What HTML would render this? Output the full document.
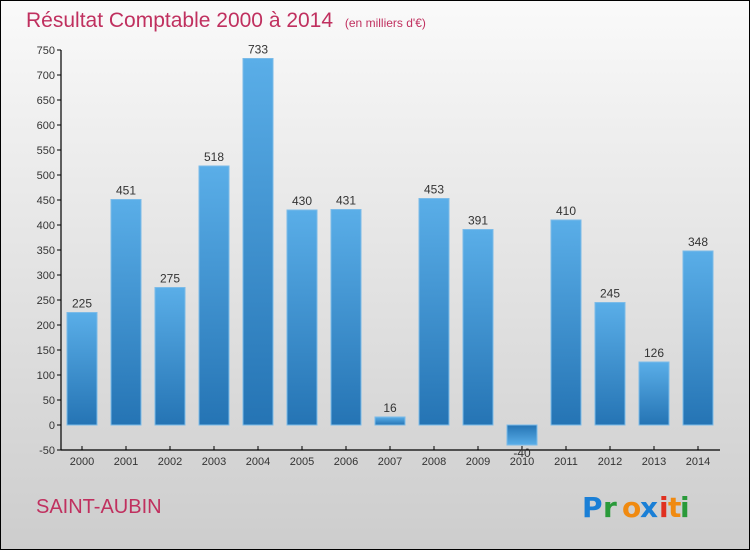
<!DOCTYPE html>
<html><head><meta charset="utf-8"><style>
body{margin:0;width:750px;height:550px;overflow:hidden;font-family:"Liberation Sans",sans-serif}
#c{position:absolute;left:0;top:0;width:748px;height:548px;border:1px solid #000;background:linear-gradient(#fafafa,#f0f0f0 20%,#cdcdcd)}
</style></head><body>
<div id="c">
<svg width="750" height="550" style="position:absolute;left:-1px;top:-1px">
<defs>
<linearGradient id="gb" x1="0" y1="0" x2="0" y2="1"><stop offset="0" stop-color="#5aaee8"/><stop offset="1" stop-color="#2574b4"/></linearGradient>
<linearGradient id="gn" x1="0" y1="0" x2="0" y2="1"><stop offset="0" stop-color="#2574b4"/><stop offset="1" stop-color="#5aaee8"/></linearGradient>
</defs>
<text x="26" y="27" font-size="21" fill="#c0305f">Résultat Comptable 2000 à 2014 <tspan font-size="12" dx="6">(en milliers d'€)</tspan></text>
<g id="axes"></g>
<g id="bars"></g>
<text x="36" y="513" font-size="20" fill="#c0305f">SAINT-AUBIN</text>
<g font-size="28" font-weight="bold" font-family="'DejaVu Sans',sans-serif">
<text x="582" y="517" fill="#1a7fd6">P</text><text x="603" y="517" fill="#2a9a3a">r</text><text x="622" y="517" fill="#f08a10">o</text><text x="640" y="517" fill="#1a7fd6">x</text><text x="659" y="517" fill="#e03020">i</text><text x="668" y="517" fill="#f08a10">t</text><text x="680" y="517" fill="#2a9a3a">i</text>
</g>
</svg>
</div>
<script>
const years=["2000","2001","2002","2003","2004","2005","2006","2007","2008","2009","2010","2011","2012","2013","2014"];
const values=[225,451,275,518,733,430,431,16,453,391,-40,410,245,126,348];
const yTicks=[-50,0,50,100,150,200,250,300,350,400,450,500,550,600,650,700,750];
const NS="http://www.w3.org/2000/svg";
function y(v){return 425-(v)*0.5;}
function x(i){return 82+i*44;}
function mk(t,a,p){const e=document.createElementNS(NS,t);for(const k in a)e.setAttribute(k,a[k]);p.appendChild(e);return e;}
const ax=document.getElementById('axes'),bg=document.getElementById('bars');
const yl=mk('line',{x1:61,y1:50,x2:61,y2:450,stroke:'#000','stroke-width':1.2},ax);


const xl=mk('line',{x1:61,y1:450,x2:720,y2:450,stroke:'#000','stroke-width':1.2},ax);


yTicks.forEach(v=>{
 mk('line',{x1:57,x2:61,y1:y(v),y2:y(v),stroke:'#000'},ax);
 const t=mk('text',{x:55,y:y(v)+4,'text-anchor':'end','font-size':11,fill:'#333'},ax);
 t.textContent=v;
 
 
});
years.forEach((yr,i)=>{
 mk('line',{x1:x(i),x2:x(i),y1:446,y2:450,stroke:'#000'},ax);
 const t=mk('text',{x:x(i),y:465,'text-anchor':'middle','font-size':11,fill:'#333'},ax);
 t.textContent=yr;
 
 
 const v=values[i];
 const top=Math.min(y(v),y(0)),h=Math.abs(y(v)-y(0));
 const r=mk('rect',{x:x(i)-15,y:top,width:30,height:Math.max(h,1),fill:v<0?'url(#gn)':'url(#gb)',stroke:'#7bbbe8','stroke-width':1},bg);
 
 
 const l=mk('text',{x:x(i),y:v<0?y(v)+12:y(v)-5,'text-anchor':'middle','font-size':12,fill:'#333'},bg);
 l.textContent=v;
 
 
});
</script>
</body></html>
